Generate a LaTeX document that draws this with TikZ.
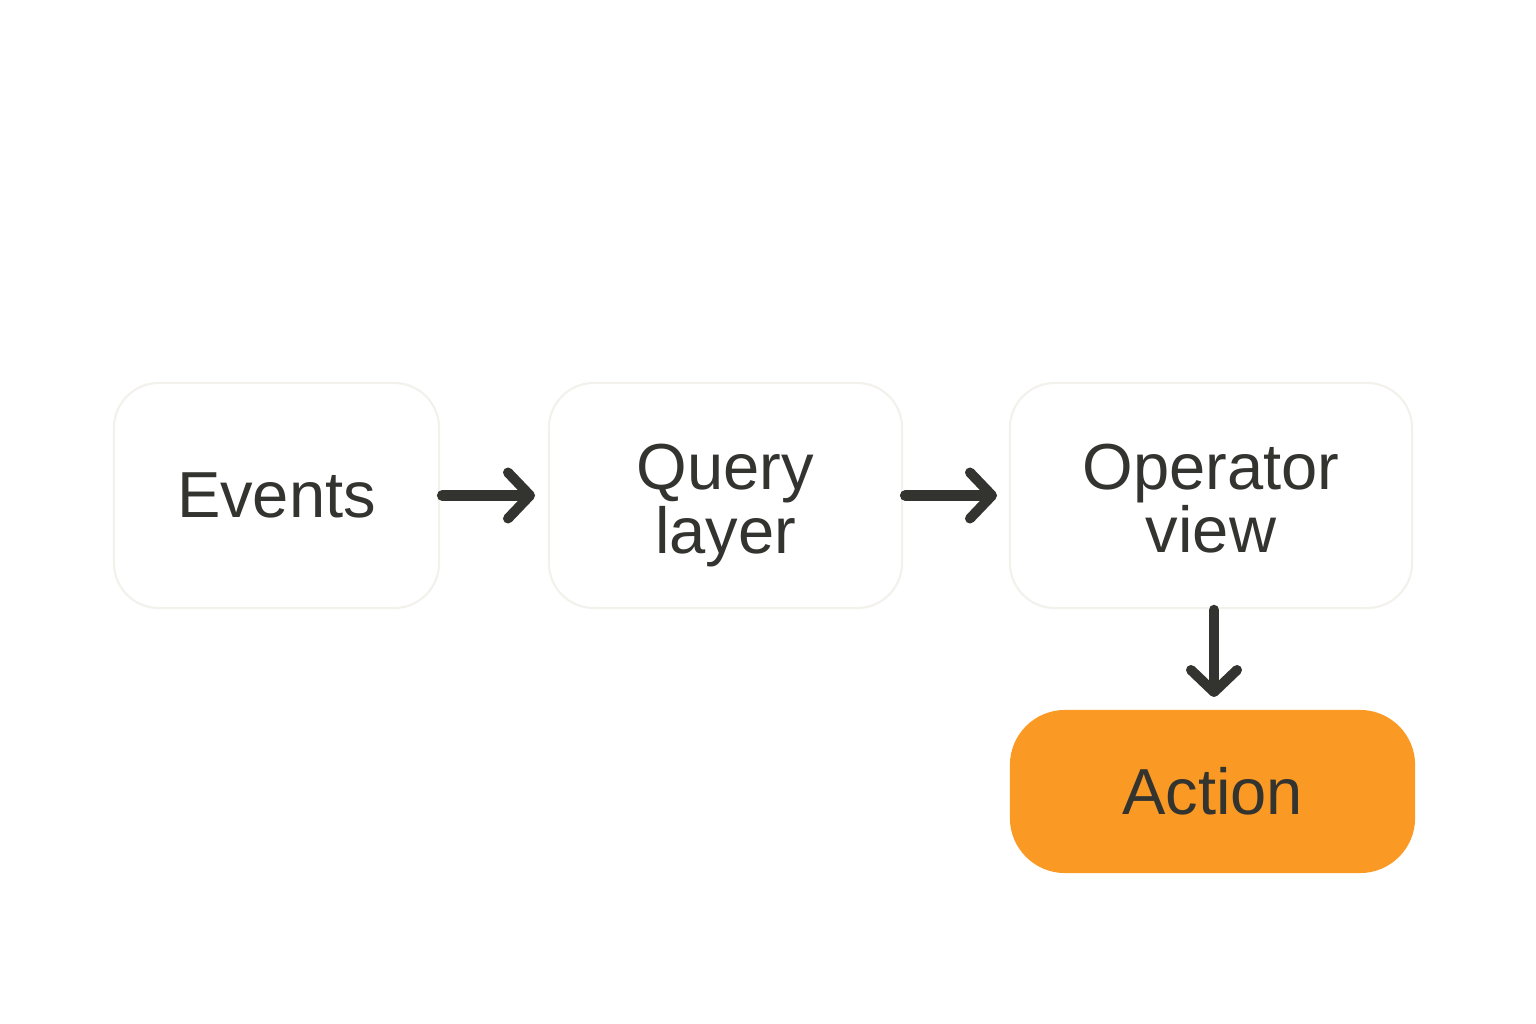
\documentclass[tikz,border=0pt]{standalone}
\usepackage{fontspec}
\setmainfont{Liberation Sans}
\usetikzlibrary{arrows.meta}
\definecolor{ink}{HTML}{33332F}
\definecolor{edge}{HTML}{F3F1EC}
\definecolor{orng}{HTML}{FA9A24}
\begin{document}
\begin{tikzpicture}[x=0.01cm,y=-0.01cm,
  box/.style={draw=edge,line width=0.6pt,fill=white,rounded corners=0.45cm,inner sep=0pt},
  lbl/.style={inner sep=0pt,font=\fontsize{18.5}{18}\selectfont,text=ink,align=center},
  actbox/.style={fill=orng,rounded corners=0.55cm,inner sep=0pt,
    font=\fontsize{18.5}{18}\selectfont,text=ink,align=center},
  conn/.style={draw=ink,line width=1.05mm,line cap=round,
    -{Straight Barb[length=2.2mm,width=4.6mm,line width=1mm,round]}}]
\useasboundingbox (0,0) rectangle (1536,1024);
\node[box,minimum width=3.25cm,minimum height=2.25cm] (ev) at (276.5,495.5) {};
\node[lbl] (evt) at (ev.center) {Events};
\node[box,minimum width=3.53cm,minimum height=2.25cm] (q) at (725.5,495.5) {};
\node[lbl,yshift=-0.1cm] (qt) at (q.center) {Query\\layer};
\node[box,minimum width=4.02cm,minimum height=2.25cm] (op) at (1211,495.5) {};
\node[lbl,yshift=-0.03cm] (opt) at (op.center) {Operator\\view};
\node[actbox,minimum width=4.05cm,minimum height=1.63cm] (ac) at (1212.5,791.5) {Action};
\draw[conn] (ev.east) ++(2,0) -- (535,495.5);
\draw[conn] (q.east) ++(2,0) -- (997,495.5);
\draw[conn] (1214,610) -- (1214,697);
\end{tikzpicture}
\end{document}
